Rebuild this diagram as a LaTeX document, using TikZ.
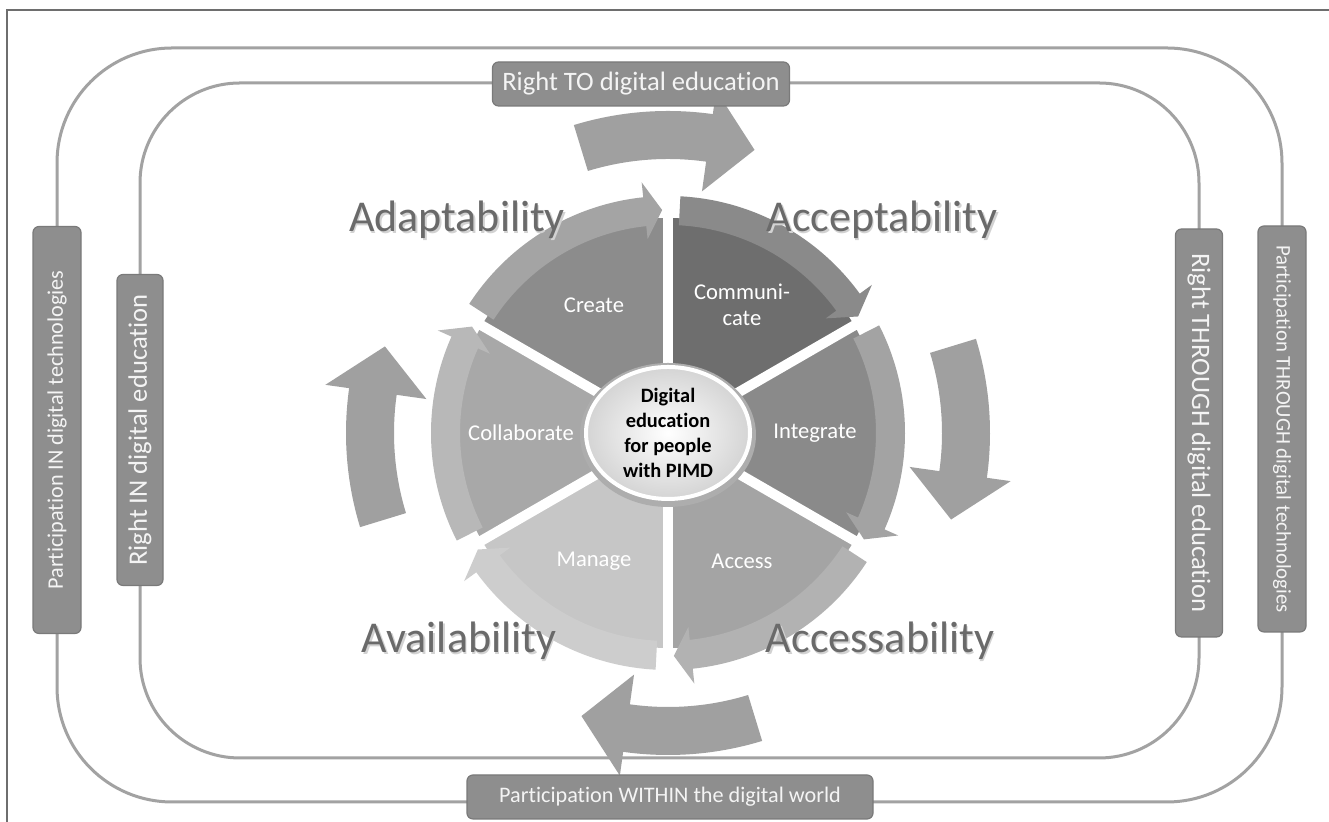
\documentclass[tikz,border=0pt]{standalone}
\usepackage{fontspec}
\setmainfont{Carlito}[Ligatures=NoCommon]
\usetikzlibrary{positioning}
\definecolor{FrameGray}{HTML}{6E6E6E}
\definecolor{LoopGray}{HTML}{A2A2A2}
\definecolor{BoxFill}{HTML}{8E8E8E}
\definecolor{BoxLine}{HTML}{7A7A7A}
\definecolor{TagText}{HTML}{F4F4F4}
\definecolor{BigArrow}{HTML}{A0A0A0}
\definecolor{WordGray}{HTML}{6A6A6A}
\definecolor{WordShade}{HTML}{D2D2D2}
\definecolor{CoreEdge}{HTML}{D4D4D4}
\definecolor{CoreRim}{HTML}{ADADAD}
% pie pieces and their arrow bands
\definecolor{CreateIn}{HTML}{8C8C8C}
\definecolor{CreateBand}{HTML}{A4A4A4}
\definecolor{CommIn}{HTML}{6E6E6E}
\definecolor{CommBand}{HTML}{8A8A8A}
\definecolor{IntegIn}{HTML}{8A8A8A}
\definecolor{IntegBand}{HTML}{A3A3A3}
\definecolor{AccessIn}{HTML}{A4A4A4}
\definecolor{AccessBand}{HTML}{B2B2B2}
\definecolor{ManageIn}{HTML}{C6C6C6}
\definecolor{ManageBand}{HTML}{CDCDCD}
\definecolor{CollabIn}{HTML}{A8A8A8}
\definecolor{CollabBand}{HTML}{B8B8B8}

% band arrow round one piece: start, head base, tip, colour
\newcommand\bandarrow[4]{%
  \fill[#4] (#1:237) arc[start angle=#1, end angle=#2, radius=237]
    -- (#2:252) -- (#3:223) -- (#2:195) -- (#2:208)
    arc[start angle=#2, end angle=#1, radius=208] -- cycle;}
% big curved arrow outside the wheel, turned by #1
\newcommand\bigarrow[1]{%
  \fill[BigArrow, rotate=#1] (17:322) arc[start angle=17, end angle=-8, radius=322]
    -- (-8:346) -- (-17:296) -- (-8:244) -- (-8:274)
    arc[start angle=-8, end angle=17, radius=274] -- cycle;}

\begin{document}
\begin{tikzpicture}[x=0.5pt, y=0.5pt,
    tagbox/.style={rounded corners=3pt, fill=BoxFill, draw=BoxLine, line width=0.6pt,
                   text=TagText, inner sep=0pt, align=center},
    bigword/.style={font=\fontsize{22}{26}\selectfont, text=WordGray, anchor=base},
    wordshade/.style={bigword, text=WordShade, xshift=0.8pt, yshift=-0.8pt},
    segword/.style={font=\fontsize{11.3}{13}\selectfont, text=white, align=center},
    loopline/.style={draw=LoopGray, line width=1.5pt}
  ]
  \useasboundingbox (0,0) rectangle (1329,822);
  \fill[white] (0,0) rectangle (1329,822);
  \draw[FrameGray, line width=1pt] (7,0) -- (7,812) -- (1329,812);

  % the two loops
  \draw[loopline, rounded corners=57.5pt] (57,20) rectangle (1282,774);
  \draw[loopline, rounded corners=50pt] (140,64) rectangle (1199,739);

  \begin{scope}[shift={(668,389)}]
    \bigarrow{0}
    \bigarrow{90}
    \bigarrow{180}
    \bigarrow{270}

    % pie pieces
    \foreach \a/\col in {90/CreateIn, 30/CommIn, -30/IntegIn, -90/AccessIn,
                         210/ManageIn, 150/CollabIn}
      \fill[\col] (0,0) -- (\a:215) arc[start angle=\a, end angle=\a+60, radius=215] -- cycle;

    \bandarrow{147}{96}{91.5}{CreateBand}
    \bandarrow{87}{36}{31.5}{CommBand}
    \bandarrow{27}{-24}{-28.5}{IntegBand}
    \bandarrow{-33}{-84}{-88.5}{AccessBand}
    \bandarrow{-93}{-144}{-148.5}{ManageBand}
    \bandarrow{207}{156}{151.5}{CollabBand}

    % white gaps between the pieces
    \foreach \a in {30,90,...,330}
      \draw[white, line width=5pt] (0,0) -- (\a:254);

    \node[segword] (create)  at (120:148) {Create};
    \node[segword] (comm)    at (60:148)  {Communi-\\cate};
    \node[segword] (integ)   at (0:147)   {Integrate};
    \node[segword] (access)  at (-60:148) {Access};
    \node[segword] (manage)  at (240:148) {Manage};
    \node[segword] (collab)  at (180:147) {Collaborate};

    % hub
    \fill[CoreRim] (0,-2) ellipse[x radius=88, y radius=72];
    \shade[inner color=white, outer color=CoreEdge] (0,0) ellipse[x radius=82, y radius=66];
    \draw[white, line width=2pt] (0,0) ellipse[x radius=82, y radius=66];
    \node[align=center, font=\bfseries\fontsize{10.2}{12.5}\selectfont] (core) at (0,0)
      {Digital\\education\\for people\\with PIMD};
  \end{scope}

  % the four A's, each with a soft shadow
  \node[wordshade] (adapt-sh)  at (457,590) {Adaptability};
  \node[wordshade] (accept-sh) at (882,590) {Acceptability};
  \node[wordshade] (avail-sh)  at (459,169) {Availability};
  \node[wordshade] (acces-sh)  at (880,169) {Accessability};
  \node[bigword] (adapt)  at (457,590) {Adaptability};
  \node[bigword] (accept) at (882,590) {Acceptability};
  \node[bigword] (avail)  at (459,169) {Availability};
  \node[bigword] (acces)  at (880,169) {Accessability};

  % labels sitting on the loops
  \node[tagbox, minimum width=148.5pt, minimum height=22pt, font=\fontsize{13.3}{16}\selectfont]
    (rightto) at (641,738) {Right TO digital education};
  \node[tagbox, minimum width=203pt, minimum height=22pt, font=\fontsize{11.1}{13}\selectfont]
    (within) at (670,25) {Participation WITHIN the digital world};
  \node[tagbox, rotate=90, minimum width=203.5pt, minimum height=24pt, font=\fontsize{11.1}{13}\selectfont]
    (partin) at (57,392) {Participation IN digital technologies};
  \node[tagbox, rotate=90, minimum width=155.5pt, minimum height=23pt, font=\fontsize{13.3}{16}\selectfont]
    (rightin) at (140,392) {Right IN digital education};
  \node[tagbox, rotate=-90, minimum width=204pt, minimum height=23.5pt, font=\fontsize{13.3}{16}\selectfont]
    (rightthrough) at (1199,389) {Right THROUGH digital education};
  \node[tagbox, rotate=-90, minimum width=203pt, minimum height=24pt, font=\fontsize{10.4}{12}\selectfont]
    (partthrough) at (1282,393) {Participation THROUGH digital technologies};
\end{tikzpicture}
\end{document}
